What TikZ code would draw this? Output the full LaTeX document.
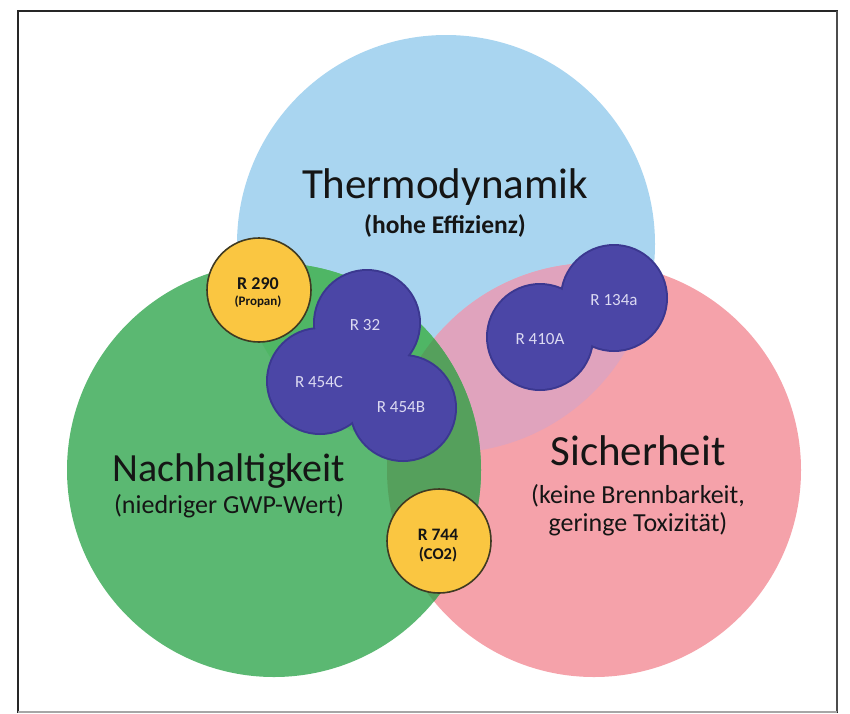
\documentclass[tikz,border=0pt]{standalone}
\usepackage{fontspec}
\setmainfont{Carlito}
\definecolor{bluec}{HTML}{A9D5F0}
\definecolor{greenc}{HTML}{5BB872}
\definecolor{pinkc}{HTML}{F5A2AA}
\definecolor{bpc}{HTML}{E0A3BD}
\definecolor{gbc}{HTML}{4FB665}
\definecolor{gpc}{HTML}{55A05C}
\definecolor{yellowc}{HTML}{FAC641}
\definecolor{yellowline}{HTML}{3F3A22}
\definecolor{purplec}{HTML}{4B46A6}
\definecolor{purpleline}{HTML}{3B3890}
\definecolor{purtext}{HTML}{DCDAF2}
\definecolor{textc}{HTML}{151515}
\begin{document}
\begin{tikzpicture}[x=1pt,y=-1pt,
  title/.style={anchor=base, inner sep=0pt, text=textc, font=\fontsize{43}{48}\selectfont},
  subtitle/.style={anchor=base, inner sep=0pt, text=textc, font=\fontsize{26}{30}\selectfont},
  yelcirc/.style={circle, fill=yellowc, draw=yellowline, line width=1.6pt, minimum size=104pt, inner sep=0pt},
  yellab/.style={anchor=base, inner sep=0pt, text=textc, font=\bfseries\fontsize{18}{20}\selectfont},
  yelsub/.style={anchor=base, inner sep=0pt, text=textc, font=\bfseries\fontsize{13}{15}\selectfont},
  purcirc/.style={circle, fill=purplec, minimum size=104pt, inner sep=0pt, text=purtext, font=\fontsize{17}{20}\selectfont},
  purrim/.style={fill=purpleline}
]
\useasboundingbox (0,0) rectangle (850,713);
% frame
\draw[black!85, line width=1.3pt] (18,11) rectangle (837,712);
\draw[black!70, line width=2.6pt] (837,11) -- (837,712);
\draw[black!35, line width=1.3pt] (18,712) -- (837,712);
% centres of the three big circles
\coordinate (cB) at (446,244);
\coordinate (cG) at (274,470);
\coordinate (cP) at (594,470);
% base circles
\fill[bluec] (cB) circle[radius=209pt];
\fill[pinkc] (cP) circle[radius=207pt];
\fill[greenc] (cG) circle[radius=207pt];
% overlaps
\begin{scope}
  \clip (cB) circle[radius=209pt];
  \fill[bpc] (cP) circle[radius=207pt];
\end{scope}
\begin{scope}
  \clip (cG) circle[radius=207pt];
  \fill[gbc] (cB) circle[radius=209pt];
\end{scope}
\begin{scope}
  \clip (cG) circle[radius=207pt];
  \fill[gpc] (cP) circle[radius=207pt];
\end{scope}
% titles
\node[title] (thermo) at (445,198) {Thermodynamik};
\node[subtitle, font=\bfseries\fontsize{25.5}{30}\selectfont] (thermosub) at (445,233) {(hohe Effizienz)};
\node[title, font=\fontsize{40}{44}\selectfont] (nach) at (229,481) {Nachhaltigkeit};
\node[subtitle] (nachsub) at (229,513) {(niedriger GWP-Wert)};
\node[title] (sich) at (638,465) {Sicherheit};
\node[subtitle] (sichsub1) at (638,503) {(keine Brennbarkeit,};
\node[subtitle] (sichsub2) at (638,531) {geringe Toxizität)};
% purple circles: group 1
\coordinate (p32) at (367,323);
\coordinate (p454c) at (320,381);
\coordinate (p454b) at (403,408);
\coordinate (p410a) at (540,337);
\coordinate (p134a) at (614,298);
\fill[purrim] (p32) circle[radius=54pt];
\fill[purrim] (p454c) circle[radius=54pt];
\fill[purrim] (p454b) circle[radius=54pt];
\fill[purrim] (p410a) circle[radius=54pt];
\fill[purrim] (p134a) circle[radius=54pt];
\node[purcirc] (r32) at (p32) {};
\node[purcirc] (r454c) at (p454c) {};
\node[purcirc] (r454b) at (p454b) {};
\node[purcirc] (r134a) at (p134a) {};
\node[purcirc] (r410a) at (p410a) {};
\node[purcirc, fill=none] (t32) at (365,325) {R 32};
\node[purcirc, fill=none] (t454c) at (319,382) {R 454C};
\node[purcirc, fill=none] (t454b) at (401,407) {R 454B};
\node[purcirc, fill=none] (t410a) at (540,339) {R 410A};
\node[purcirc, fill=none] (t134a) at (614,300) {R 134a};
% yellow circles
\node[yelcirc] (r290) at (259,290) {};
\node[yellab] (r290a) at (258,289) {R 290};
\node[yelsub] (r290b) at (258,305) {(Propan)};
\node[yelcirc] (r744) at (439,541) {};
\node[yellab, font=\bfseries\fontsize{17.5}{20}\selectfont] (r744a) at (438,540) {R 744};
\node[yellab, font=\bfseries\fontsize{16.5}{20}\selectfont] (r744b) at (438,559) {(CO2)};
\end{tikzpicture}
\end{document}
